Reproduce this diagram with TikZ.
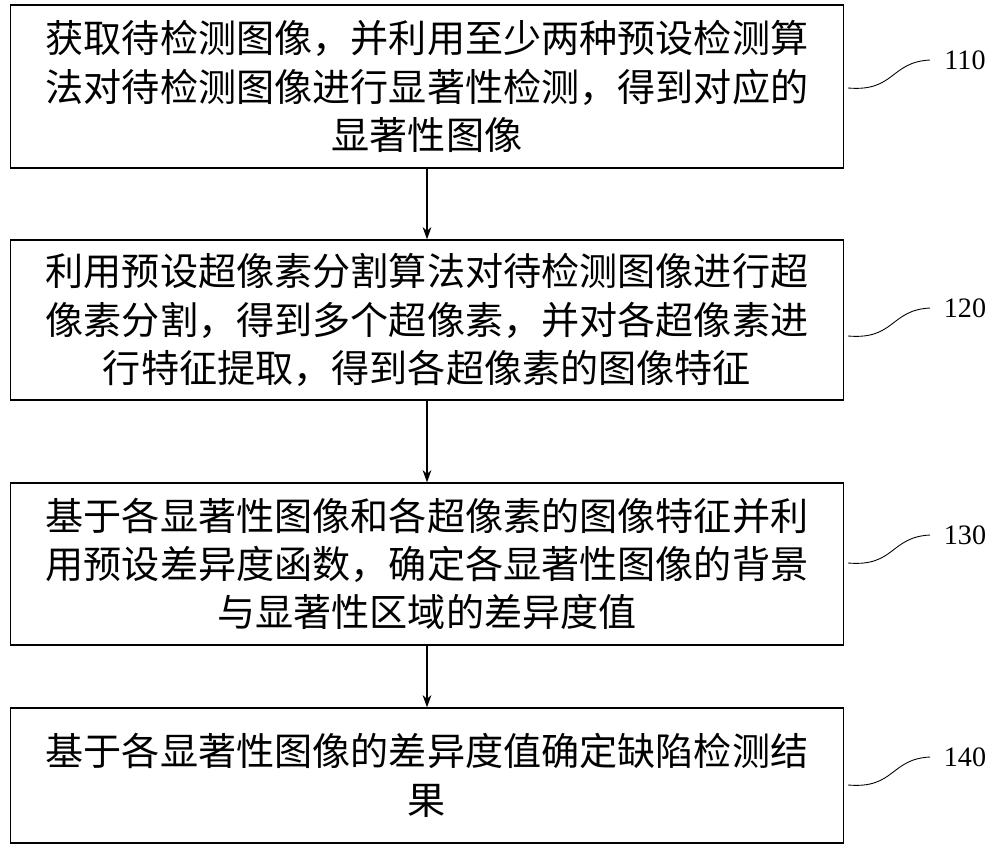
\documentclass[tikz,border=0pt]{standalone}
\usepackage{fontspec}
\setmainfont{Liberation Serif}
\newfontfamily\cjk{Noto Sans CJK SC}
\usetikzlibrary{arrows.meta, positioning}
\begin{document}
\begin{tikzpicture}[x=0.02cm, y=-0.02cm,
    stepbox/.style={draw, line width=0.8pt, minimum width=16.66cm, align=center,
      font=\cjk\fontsize{21.7pt}{27.5pt}\selectfont, inner sep=0pt},
    flow/.style={-{Stealth[length=7pt,width=5pt]}, line width=0.6pt},
    tag/.style={font=\fontsize{16pt}{18pt}\selectfont}]
    \useasboundingbox (0,0) rectangle (1000,848);
    % Steps
    \node[stepbox, minimum height=3.26cm] (s110) at (427,86.5)
        {获取待检测图像，并利用至少两种预设检测算\\法对待检测图像进行显著性检测，得到对应的\\显著性图像};
    \node[stepbox, minimum height=3.2cm] (s120) at (427,320)
        {利用预设超像素分割算法对待检测图像进行超\\像素分割，得到多个超像素，并对各超像素进\\行特征提取，得到各超像素的图像特征};
    \node[stepbox, minimum height=3.24cm] (s130) at (427,564)
        {基于各显著性图像和各超像素的图像特征并利\\用预设差异度函数，确定各显著性图像的背景\\与显著性区域的差异度值};
    \node[stepbox, minimum height=2.7cm] (s140) at (427,775.5)
        {基于各显著性图像的差异度值确定缺陷检测结\\果};
    % Arrows
    \draw[flow] (s110) -- (s120);
    \draw[flow] (s120) -- (s130);
    \draw[flow] (s130) -- (s140);
    % Tags
    \foreach \s/\y in {110/60, 120/308, 130/535, 140/757} {
        \node[tag] (t\s) at (965,\y) {\s};
        \draw[line width=0.5pt] (848,\y+28) .. controls (895,\y+32) and (890,\y+2) .. (930,\y);
    }
\end{tikzpicture}
\end{document}
